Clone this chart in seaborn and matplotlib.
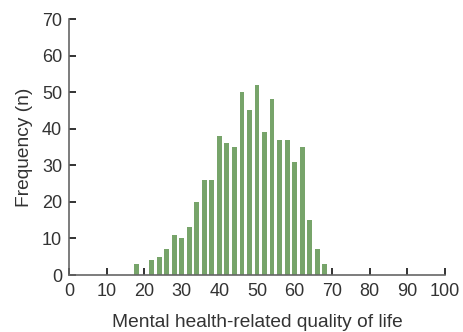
import matplotlib
matplotlib.use("Agg")
import matplotlib.pyplot as plt
import seaborn as sns
import pandas as pd

# Score bins (bin centres) and number of respondents in each
scores = [18, 22, 24, 26, 28, 30, 32, 34, 36, 38, 40, 42, 44, 46, 48,
          50, 52, 54, 56, 58, 60, 62, 64, 66, 68]
counts = [3, 4, 5, 7, 11, 10, 13, 20, 26, 26, 38, 36, 35, 50, 45,
          52, 39, 48, 37, 37, 31, 35, 15, 7, 3]
x_ticks = list(range(0, 101, 10))
y_ticks = list(range(0, 71, 10))

df = pd.DataFrame({"score": scores, "count": counts})

sns.set_theme(style="ticks")
plt.rcParams["font.family"] = ["Liberation Sans", "DejaVu Sans"]

fig = plt.figure(figsize=(4.63, 3.32), dpi=100)
ax = fig.add_axes([69 / 463, 57 / 332, 376 / 463, 256 / 332])

sns.barplot(data=df, x="score", y="count", native_scale=True, width=0.65,
            color="#77a46a", saturation=1, edgecolor="none", ax=ax)

ax.set_xlim(0, 100)
ax.set_ylim(0, 70)
ax.set_xticks(x_ticks)
ax.set_yticks(y_ticks)
text_color = "#333333"
ax.tick_params(direction="in", length=5, width=1.3, color="#222222",
               labelsize=13, labelcolor=text_color)
ax.tick_params(axis="x", pad=6)
ax.tick_params(axis="y", pad=5)
for side in ("top", "right"):
    ax.spines[side].set_visible(False)
for side in ("left", "bottom"):
    ax.spines[side].set_color("#666666")
    ax.spines[side].set_linewidth(1.2)

ax.set_xlabel("Mental health-related quality of life", fontsize=13.8,
              color=text_color, labelpad=10)
ax.set_ylabel("Frequency (n)", fontsize=13.8, color=text_color, labelpad=6)

fig.savefig("out.png", dpi=100)
